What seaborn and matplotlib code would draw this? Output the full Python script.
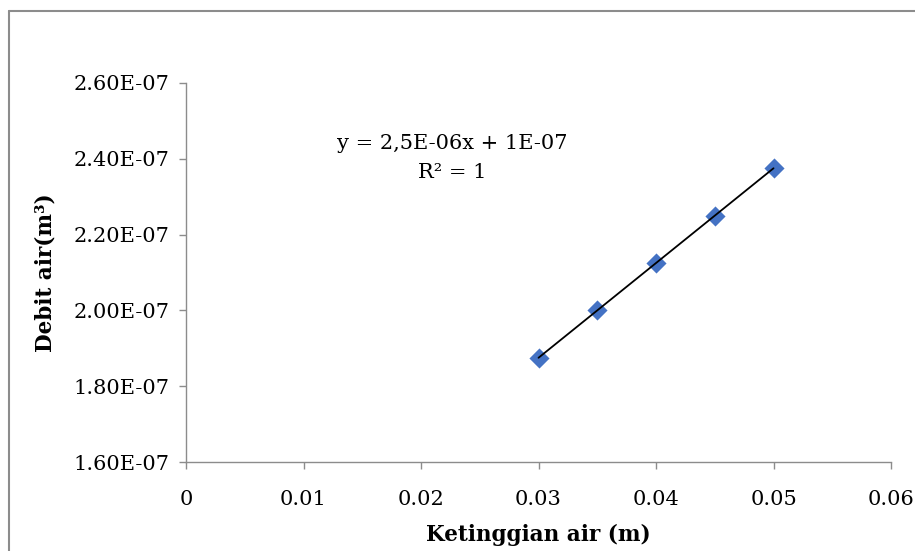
import numpy as np
import matplotlib
matplotlib.use("Agg")
import matplotlib.pyplot as plt
import seaborn as sns
from matplotlib.ticker import FuncFormatter

# ==========================================
# DATA
# ==========================================

ketinggian = [0.030, 0.035, 0.040, 0.045, 0.050]
debit = [1.875e-07, 2.000e-07, 2.125e-07, 2.250e-07, 2.375e-07]

x_ticks = [0, 0.01, 0.02, 0.03, 0.04, 0.05, 0.06]
y_ticks = [1.6e-07, 1.8e-07, 2.0e-07, 2.2e-07, 2.4e-07, 2.6e-07]

equation_text = "y = 2,5E-06x + 1E-07"
r2_text = "R² = 1"

# ==========================================
# STYLE
# ==========================================

sns.set_style("white")
plt.rcParams["font.family"] = ["DejaVu Serif"]
plt.rcParams["text.color"] = "black"
plt.rcParams["axes.labelcolor"] = "black"

spine_color = "#8c8c8c"

fig = plt.figure(figsize=(9.15, 5.51), dpi=100)
ax = fig.add_axes([0.2033, 0.1615, 0.7705, 0.6879])

# figure border (left and top only visible)
fig.add_artist(plt.Line2D([0.0098, 0.0098], [0, 0.980], color=spine_color, lw=1.5))
fig.add_artist(plt.Line2D([0.0098, 1.0], [0.980, 0.980], color=spine_color, lw=1.5))

# ==========================================
# SCATTER + TRENDLINE
# ==========================================

sns.regplot(
    x=ketinggian,
    y=debit,
    ci=None,
    marker="D",
    ax=ax,
    scatter_kws={"s": 105, "color": "#4472C4", "alpha": 1, "linewidths": 0, "zorder": 2},
    line_kws={"color": "black", "lw": 1.3, "zorder": 3}
)

ax.set_xlim(0, 0.06)
ax.set_ylim(1.6e-07, 2.6e-07)
ax.set_xticks(x_ticks)
ax.set_yticks(y_ticks)

ax.xaxis.set_major_formatter(
    FuncFormatter(lambda v, p: "0" if v == 0 else f"{v:.2f}")
)
ax.yaxis.set_major_formatter(
    FuncFormatter(lambda v, p: f"{v:.2E}")
)

for side in ["top", "right"]:
    ax.spines[side].set_visible(False)
for side in ["left", "bottom"]:
    ax.spines[side].set_color(spine_color)
    ax.spines[side].set_linewidth(1.0)

ax.tick_params(
    axis="both",
    direction="out",
    length=5,
    width=1.0,
    color=spine_color,
    labelsize=15,
    labelcolor="black",
    left=True,
    bottom=True
)
ax.tick_params(axis="y", pad=7)
ax.tick_params(axis="x", pad=15)

ax.set_xlabel("Ketinggian air (m)", fontsize=15.5, fontweight="bold", labelpad=11)
ax.set_ylabel("Debit air(m³)", fontsize=15.5, fontweight="bold", labelpad=12)

ax.text(0.0227, 2.44e-07, equation_text, fontsize=15, ha="center", va="center")
ax.text(0.0227, 2.363e-07, r2_text, fontsize=15, ha="center", va="center")

plt.savefig("out.png", dpi=100)
